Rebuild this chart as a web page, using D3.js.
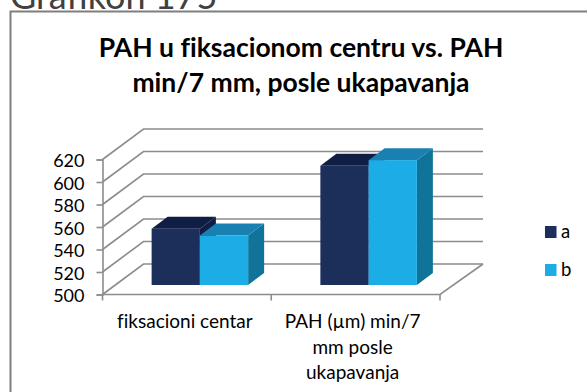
<!DOCTYPE html>
<html>
<head>
<meta charset="utf-8">
<script src="https://cdn.jsdelivr.net/npm/d3@7"></script>
<style>
  body { margin: 0; background: #fff; overflow: hidden; }
  text { font-family: Lato, "Open Sans", sans-serif; font-variant-ligatures: none; }
</style>
</head>
<body>
<script>
const w = 587;
const h = 392;

const categories = ["fiksacioni centar", "PAH (µm) min/7 mm posle ukapavanja"];
const categoryLines = [["fiksacioni centar"], ["PAH (µm) min/7", "mm posle", "ukapavanja"]];
const seriesNames = ["a", "b"];
const seriesA = [550, 606];
const seriesB = [544, 611];
const yTicks = [500, 520, 540, 560, 580, 600, 620];
const titleLines = ["PAH u fiksacionom centru vs. PAH", "min/7 mm, posle ukapavanja"];

const front = ["#1c2e5a", "#1cade6"];
const top_ = ["#101d45", "#1a80b2"];
const side = ["#101d45", "#107399"];
const gridColor = "#8c8c8c";

// wall depth of the 3d box, bars sit part way into it
const wallDx = 41, wallDy = -30.5;
const barShiftX = 13, barShiftY = -9.5;
const barDx = 16, barDy = -12;

const svg = d3.select("body").append("svg").attr("width", w).attr("height", h);

const x = d3.scaleBand().domain(categories).range([102.5, 440]);
const xSeries = d3.scaleBand().domain(seriesNames).range([0, 96.5]);
const y = d3.scaleLinear().domain([500, 620]).range([294.5, 159.5]);

// heading cut off by the top of the picture
svg.append("text").attr("x", 10).attr("y", 9).attr("font-size", 36)
  .attr("fill", "#404040").text("Grafikon 175");

// frame
svg.append("rect").attr("x", 10.5).attr("y", 11.5).attr("width", 620).attr("height", 420)
  .attr("fill", "#fff").attr("stroke", "#7f7f7f").attr("stroke-width", 2);

// title
svg.append("g").selectAll("text").data(titleLines).enter().append("text")
  .attr("x", 301).attr("y", (d, i) => 56.5 + i * 35.5)
  .attr("text-anchor", "middle").attr("font-size", 26.5).attr("font-weight", 700)
  .attr("fill", "#000").text(d => d);

// walls and floor lines
const grid = svg.append("g").attr("fill", "none").attr("stroke", gridColor).attr("stroke-width", 1.6);
yTicks.forEach(t => {
  const points = [[102.5, y(t)], [102.5 + wallDx, y(t) + wallDy], [440 + wallDx + 2, y(t) + wallDy]];
  grid.append("path").attr("d", d3.line()(points));
});
grid.append("path").attr("d", d3.line()([[102.5, y(500)], [440, y(500)], [440 + wallDx + 2, y(500) + wallDy]]));

// axes
const yAxis = svg.append("g").attr("transform", "translate(102.5,0)")
  .call(d3.axisLeft(y).tickValues(yTicks).tickSize(6).tickPadding(12));
yAxis.select(".domain").attr("stroke", gridColor).attr("stroke-width", 1.6);
yAxis.selectAll("line").attr("stroke", gridColor).attr("stroke-width", 1.6);
yAxis.selectAll("text").attr("font-size", 18).attr("fill", "#000").attr("dy", "0.4em");

svg.append("g").selectAll("line").data([102.5, 271.25, 440]).enter().append("line")
  .attr("x1", d => d).attr("x2", d => d).attr("y1", y(500)).attr("y2", y(500) + 6)
  .attr("stroke", gridColor).attr("stroke-width", 1.6);

// bars
const rows = [];
categories.forEach((c, i) => {
  rows.push({ c: c, s: "a", v: seriesA[i], k: 0 });
  rows.push({ c: c, s: "b", v: seriesB[i], k: 1 });
});

const bars = svg.append("g").selectAll("g").data(rows).enter().append("g");
const bw = xSeries.bandwidth();
const x0 = d => x(d.c) + (x.bandwidth() - 96.5) / 2 + barShiftX + xSeries(d.s);
const yTop = d => y(d.v) + barShiftY;
const yBase = y(500) + barShiftY;

bars.append("path").attr("fill", d => side[d.k])
  .attr("d", d => d3.line()([
    [x0(d) + bw, yTop(d)], [x0(d) + bw + barDx, yTop(d) + barDy],
    [x0(d) + bw + barDx, yBase + barDy], [x0(d) + bw, yBase]
  ]) + "Z");
bars.append("path").attr("fill", d => top_[d.k])
  .attr("d", d => d3.line()([
    [x0(d), yTop(d)], [x0(d) + barDx, yTop(d) + barDy],
    [x0(d) + bw + barDx, yTop(d) + barDy], [x0(d) + bw, yTop(d)]
  ]) + "Z");
bars.append("rect").attr("fill", d => front[d.k])
  .attr("x", d => x0(d)).attr("y", d => yTop(d))
  .attr("width", bw).attr("height", d => yBase - yTop(d));

// category labels
svg.append("g").selectAll("text").data(categoryLines).enter().append("text")
  .attr("text-anchor", "middle").attr("font-size", 19).attr("fill", "#000")
  .attr("transform", (d, i) => "translate(" + (x(categories[i]) + x.bandwidth() / 2 - (i === 0 ? 2 : 3)) + ",0)")
  .selectAll("tspan").data(d => d).enter().append("tspan")
  .attr("x", 0).attr("y", (d, i) => 328 + i * 25.5).text(d => d);

// legend
const legend = svg.append("g").selectAll("g").data(seriesNames).enter().append("g")
  .attr("transform", (d, i) => "translate(545," + (226 + i * 38) + ")");
legend.append("rect").attr("width", 11.5).attr("height", 12).attr("fill", (d, i) => front[i]);
legend.append("text").attr("x", 16).attr("y", 12).attr("font-size", 18.5).attr("fill", "#000").text(d => d);
</script>
</body>
</html>
